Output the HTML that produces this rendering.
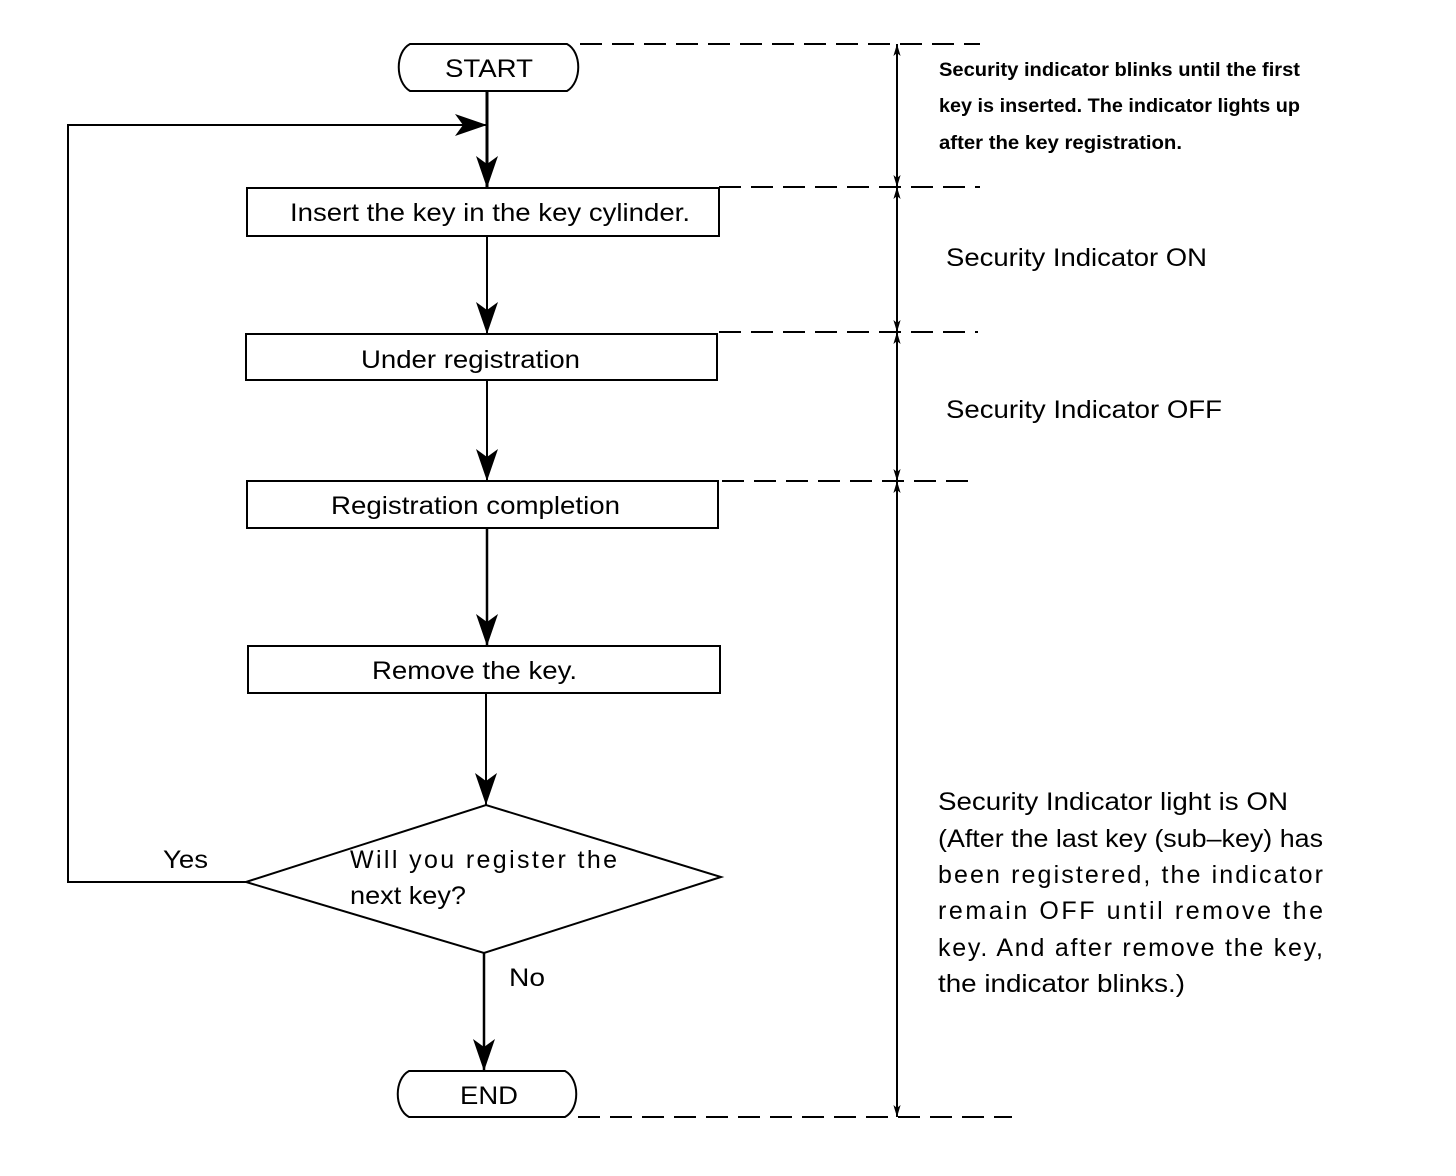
<!DOCTYPE html>
<html><head><meta charset="utf-8"><style>html,body{margin:0;padding:0;background:#fff}svg{display:block}</style></head>
<body>
<svg width="1456" height="1176" viewBox="0 0 1456 1176" xmlns="http://www.w3.org/2000/svg" font-family="Liberation Sans, sans-serif" fill="#000">
<defs>
<marker id="a" markerWidth="12" markerHeight="20" refX="20" refY="6" orient="auto" markerUnits="userSpaceOnUse" viewBox="0 0 20 12"><path d="M0,0 L20,6 L0,12 L5,6 Z" fill="#000"/></marker>
<marker id="b" markerWidth="32" markerHeight="22" refX="32" refY="11" orient="auto" markerUnits="userSpaceOnUse"><path d="M0,0 L32,11 L0,22 L8,11 Z" fill="#000"/></marker>
</defs>
<g stroke="#000" stroke-width="2" fill="none">
<path d="M410,44 H567 C582,52 582,82 567,91 H410 C395,82 395,52 410,44 Z"/>
<path d="M409,1071 H565 C580,1079 580,1109 565,1117 H409 C394,1109 394,1079 409,1071 Z"/>
<rect x="247" y="188" width="472" height="48"/>
<rect x="246" y="334" width="471" height="46"/>
<rect x="247" y="481" width="471" height="47"/>
<rect x="248" y="646" width="472" height="47"/>
<path d="M246,882 L486,805 L721,877 L484,953 Z"/>
<line x1="487" y1="91" x2="487" y2="188" stroke-width="3" marker-end="url(#b)"/>
<path d="M246,882 H68 V125 H487" marker-end="url(#b)"/>
<line x1="487" y1="236" x2="487" y2="334" marker-end="url(#b)"/>
<line x1="487" y1="380" x2="487" y2="481" marker-end="url(#b)"/>
<line x1="487" y1="528" x2="487" y2="646" stroke-width="2.5" marker-end="url(#b)"/>
<line x1="486" y1="693" x2="486" y2="805" marker-end="url(#b)"/>
<line x1="484" y1="953" x2="484" y2="1071" stroke-width="2.5" marker-end="url(#b)"/>
<g stroke-dasharray="22,10">
<line x1="580" y1="44" x2="980" y2="44"/>
<line x1="719" y1="187" x2="980" y2="187"/>
<line x1="719" y1="332" x2="978" y2="332"/>
<line x1="722" y1="481" x2="978" y2="481"/>
<line x1="578" y1="1117" x2="1012" y2="1117"/>
</g>
<line x1="897" y1="115" x2="897" y2="44" marker-end="url(#a)"/>
<line x1="897" y1="115" x2="897" y2="187" marker-end="url(#a)"/>
<line x1="897" y1="260" x2="897" y2="187" marker-end="url(#a)"/>
<line x1="897" y1="260" x2="897" y2="332" marker-end="url(#a)"/>
<line x1="897" y1="405" x2="897" y2="332" marker-end="url(#a)"/>
<line x1="897" y1="405" x2="897" y2="481" marker-end="url(#a)"/>
<line x1="897" y1="800" x2="897" y2="481" marker-end="url(#a)"/>
<line x1="897" y1="800" x2="897" y2="1117" marker-end="url(#a)"/>
</g>
<g font-size="25" lengthAdjust="spacingAndGlyphs">
<text x="445" y="77" textLength="88" lengthAdjust="spacingAndGlyphs">START</text>
<text x="460" y="1104" textLength="58" lengthAdjust="spacingAndGlyphs">END</text>
<text x="290" y="221" textLength="400" lengthAdjust="spacingAndGlyphs">Insert the key in the key cylinder.</text>
<text x="361" y="368" textLength="219" lengthAdjust="spacingAndGlyphs">Under registration</text>
<text x="331" y="514" textLength="289" lengthAdjust="spacingAndGlyphs">Registration completion</text>
<text x="372" y="679" textLength="205" lengthAdjust="spacingAndGlyphs">Remove the key.</text>
<text x="350" y="868" textLength="267">Will you register the</text>
<text x="350" y="904" textLength="116" lengthAdjust="spacingAndGlyphs">next key?</text>
<text x="163" y="868" textLength="45" lengthAdjust="spacingAndGlyphs">Yes</text>
<text x="509" y="986" textLength="36" lengthAdjust="spacingAndGlyphs">No</text>
<text x="946" y="266" textLength="261" lengthAdjust="spacingAndGlyphs">Security Indicator ON</text>
<text x="946" y="418" textLength="276" lengthAdjust="spacingAndGlyphs">Security Indicator OFF</text>
<text x="938" y="810" textLength="350" lengthAdjust="spacingAndGlyphs">Security Indicator light is ON</text>
<text x="938" y="847" textLength="385" lengthAdjust="spacingAndGlyphs">(After the last key (sub–key) has</text>
<text x="938" y="883" textLength="385">been registered, the indicator</text>
<text x="938" y="919" textLength="385">remain OFF until remove the</text>
<text x="938" y="956" textLength="385">key. And after remove the key,</text>
<text x="938" y="992" textLength="247" lengthAdjust="spacingAndGlyphs">the indicator blinks.)</text>
</g>
<g font-size="19" font-weight="bold">
<text x="939" y="76" textLength="361" lengthAdjust="spacingAndGlyphs">Security indicator blinks until the first</text>
<text x="939" y="112" textLength="361" lengthAdjust="spacingAndGlyphs">key is inserted. The indicator lights up</text>
<text x="939" y="149" textLength="243" lengthAdjust="spacingAndGlyphs">after the key registration.</text>
</g>
</svg>
</body></html>
